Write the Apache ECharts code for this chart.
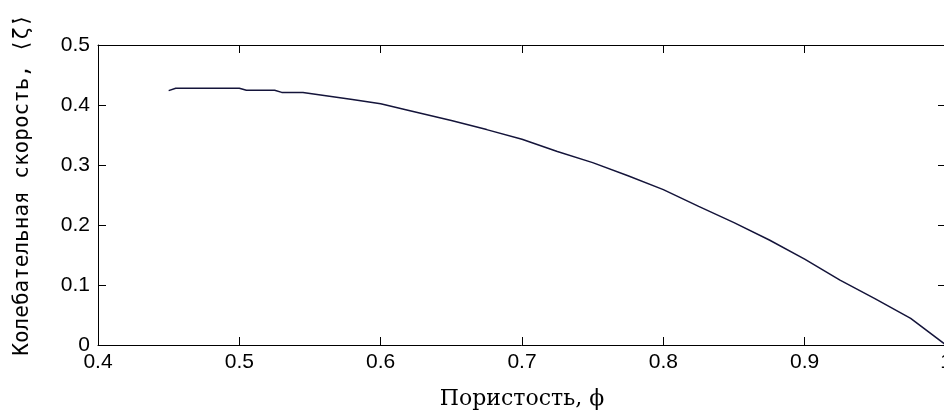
<!DOCTYPE html>
<html>
<head>
<meta charset="utf-8">
<script src="https://cdn.jsdelivr.net/npm/echarts@6/dist/echarts.min.js"></script>
<style>
html,body{margin:0;padding:0;background:#fff;}
#c{width:944px;height:414px;}
</style>
</head>
<body>
<div id="c"></div>
<script>
// Porosity (phi) values
var porosity = [0.45, 0.455, 0.47, 0.50, 0.505, 0.525, 0.53, 0.545, 0.56, 0.58, 0.60, 0.62, 0.65, 0.675, 0.70, 0.725, 0.75, 0.775, 0.80, 0.825, 0.85, 0.875, 0.90, 0.925, 0.95, 0.975, 1.0];
// Oscillation velocity values
var velocity = [0.424, 0.428, 0.428, 0.428, 0.4245, 0.4245, 0.421, 0.421, 0.416, 0.409, 0.402, 0.391, 0.374, 0.359, 0.343, 0.3225, 0.304, 0.282, 0.259, 0.231, 0.204, 0.175, 0.143, 0.108, 0.077, 0.0445, 0.0];
var xTitle = 'Пористость, ϕ';
var yTitle = 'Колебательная скорость, ⟨ζ̇⟩';

var pts = porosity.map(function (p, i) { return [p, velocity[i]]; });

var chart = echarts.init(document.getElementById('c'), null, {renderer: 'canvas'});
var tickFont = {color: '#000', fontFamily: '"Liberation Sans", Arial, sans-serif', fontSize: 21};
var lineStyle = {color: '#000', width: 1};
chart.setOption({
  backgroundColor: '#fff',
  animation: false,
  grid: {left: 98, top: 45, width: 848, height: 300, containLabel: false, outerBoundsMode: 'none'},
  xAxis: [{
    type: 'value', min: 0.4, max: 1, interval: 0.1, position: 'bottom',
    axisLine: {show: true, onZero: false, lineStyle: lineStyle},
    axisTick: {show: true, inside: true, length: 8, lineStyle: lineStyle},
    axisLabel: Object.assign({margin: 7}, tickFont),
    splitLine: {show: false},
    name: xTitle, nameLocation: 'middle', nameGap: 43,
    nameTextStyle: {color: '#000', fontFamily: '"DejaVu Serif", serif', fontSize: 22}
  }, {
    type: 'value', min: 0.4, max: 1, interval: 0.1, position: 'top',
    axisLine: {show: true, onZero: false, lineStyle: lineStyle},
    axisTick: {show: true, inside: true, length: 8, lineStyle: lineStyle},
    axisLabel: {show: false}, splitLine: {show: false}
  }],
  yAxis: [{
    type: 'value', min: 0, max: 0.5, interval: 0.1, position: 'left',
    axisLine: {show: true, onZero: false, lineStyle: lineStyle},
    axisTick: {show: true, inside: true, length: 8, lineStyle: lineStyle},
    axisLabel: Object.assign({margin: 8}, tickFont),
    splitLine: {show: false},
    name: yTitle, nameLocation: 'middle', nameGap: 65, nameRotate: 90,
    nameTextStyle: {color: '#000', fontFamily: '"DejaVu Sans Mono", monospace', fontSize: 21, padding: [0, 0, 0, 20]}
  }, {
    type: 'value', min: 0, max: 0.5, interval: 0.1, position: 'right',
    axisLine: {show: true, onZero: false, lineStyle: lineStyle},
    axisTick: {show: true, inside: true, length: 8, lineStyle: lineStyle},
    axisLabel: {show: false}, splitLine: {show: false}
  }],
  series: [{
    type: 'line', xAxisIndex: 0, yAxisIndex: 0,
    data: pts, showSymbol: false, smooth: false,
    lineStyle: {color: '#14143a', width: 1.5}
  }]
});
</script>
</body>
</html>
